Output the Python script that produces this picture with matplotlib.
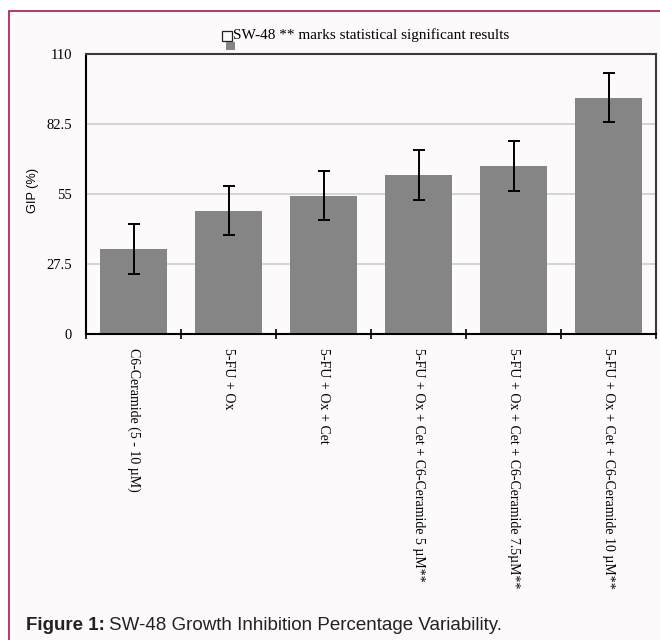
import numpy as np
import matplotlib.pyplot as plt
from matplotlib.patches import Rectangle

# values
categories = [
    "C6-Ceramide (5 - 10 \u00b5M)",
    "5-FU + Ox",
    "5-FU + Ox + Cet",
    "5-FU + Ox + Cet + C6-Ceramide 5 \u00b5M**",
    "5-FU + Ox + Cet + C6-Ceramide 7.5\u00b5M**",
    "5-FU + Ox + Cet + C6-Ceramide 10 \u00b5M**",
]
gip = [33.3, 48.4, 54.4, 62.6, 66.1, 92.8]
gip_err = [9.8, 9.7, 9.6, 9.8, 9.9, 9.6]
y_ticks = [0, 27.5, 55, 82.5, 110]
y_ticklabels = ["0", "27.5", "55", "82.5", "110"]

W, H = 660, 640
fig = plt.figure(figsize=(W / 100, H / 100), dpi=100)
fig.patch.set_facecolor("white")

# page panel with crimson border (runs off the right / bottom edges)
panel = Rectangle((9 / W, -0.05), 1.1, 1 - 11 / H + 0.05, transform=fig.transFigure,
                  facecolor="#fcfafb", edgecolor="#b01646", lw=1.2, zorder=-5)
fig.patches.append(panel)

ax = fig.add_axes([86 / W, 1 - 334 / H, 570 / W, 280 / H])
ax.set_facecolor("#fcfafb")

x = np.arange(len(categories))
ax.bar(x, gip, width=0.71, color="#858585", zorder=2)
ax.errorbar(x, gip, yerr=gip_err, fmt="none", ecolor="black", elinewidth=1.4,
            capsize=4, capthick=1.4, zorder=3)

ax.set_xlim(-0.5, len(categories) - 0.5)
ax.set_ylim(0, 110)
ax.set_yticks(y_ticks)
ax.set_yticklabels(y_ticklabels, family="Liberation Serif", fontsize=10.5)
ax.tick_params(axis="y", length=0, pad=10)
ax.yaxis.grid(True, color="#d4d4d4", lw=1.4, zorder=0)
ax.set_axisbelow(True)

ax.set_xticks(x)
ax.set_xticklabels(categories, rotation=270, ha="center", va="top",
                   family="Liberation Serif", fontsize=10)
ax.tick_params(axis="x", length=0, pad=10)
ax.set_xticks(np.arange(-0.5, len(categories)), minor=True)
ax.tick_params(axis="x", which="minor", direction="inout", length=7, width=1.2, color="black")

for s in ["left", "bottom"]:
    ax.spines[s].set_color("black")
    ax.spines[s].set_linewidth(1.5)
for s in ["top", "right"]:
    ax.spines[s].set_color("#3a3a3a")
    ax.spines[s].set_linewidth(1.5)

ax.set_ylabel("GIP (%)", family="Liberation Sans", fontsize=9.2)
ax.yaxis.set_label_coords(-0.083, 0.514)

# legend-like header
fig.patches.append(Rectangle((222 / W, 1 - 41 / H), 10 / W, 10 / H, transform=fig.transFigure,
                             facecolor="none", edgecolor="#222222", lw=0.9))
fig.patches.append(Rectangle((226 / W, 1 - 50 / H), 9 / W, 8 / H, transform=fig.transFigure,
                             facecolor="#858585", edgecolor="none"))
fig.text(233 / W, 1 - 35 / H, "SW-48 ** marks statistical significant results",
         family="Liberation Serif", fontsize=11, va="center", ha="left")

# caption
t1 = fig.text(26 / W, 1 - 626 / H, "Figure 1:", family="Liberation Sans", weight="bold",
              fontsize=13.5, va="center", ha="left", color="#222222")
fig.canvas.draw()
bb = t1.get_window_extent()
fig.text((bb.x1 + 4) / W, 1 - 626 / H, "SW-48 Growth Inhibition Percentage Variability.",
         family="Liberation Sans", fontsize=13.5, va="center", ha="left", color="#222222")

fig.savefig("out.png", dpi=100, facecolor=fig.get_facecolor())
